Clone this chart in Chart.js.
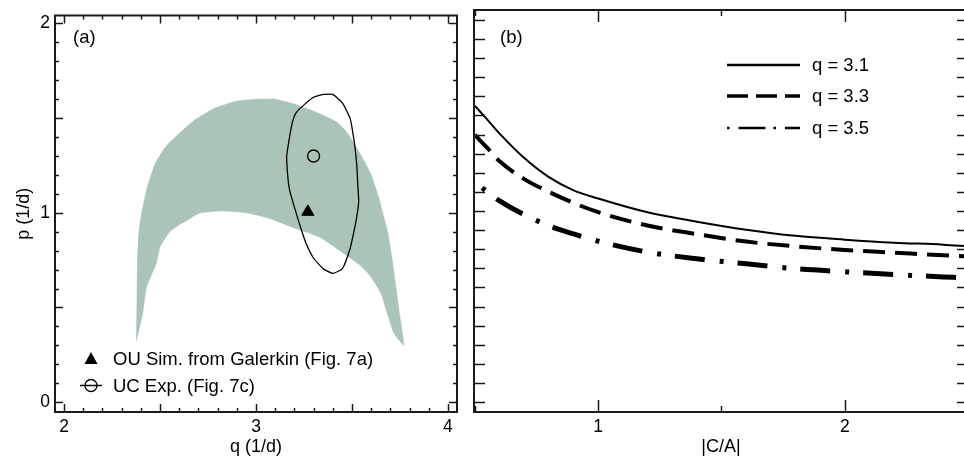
<!DOCTYPE html>
<html lang="en">
<head>
    <meta charset="UTF-8">
    <title>p-q region and |C/A| curves</title>
    <script src="https://cdn.jsdelivr.net/npm/chart.js@4.4.0/dist/chart.umd.min.js"></script>
    <style>
        html, body { margin: 0; padding: 0; background: #fff; overflow: hidden; }
        .wrap { position: relative; width: 964px; height: 459px; overflow: hidden; }
        #leftChart { position: absolute; left: 0; top: 0; }
        #rightChart { position: absolute; left: 464px; top: 0; }
    </style>
</head>
<body>
<div class="wrap">
    <canvas id="leftChart" width="470" height="459"></canvas>
    <canvas id="rightChart" width="510" height="459"></canvas>
</div>
<script>
    // ---- panel (a): shaded band, outer edge then inner edge (q, p) ----
    const bandQ = [2.377, 2.38, 2.382, 2.39, 2.405, 2.435, 2.475, 2.53, 2.59, 2.68, 2.78, 2.90, 3.00, 3.10, 3.20, 3.28, 3.36, 3.42, 3.47, 3.52, 3.56, 3.60, 3.64, 3.665, 3.686, 3.71, 3.73, 3.75, 3.77,
                   3.717, 3.69, 3.65, 3.60, 3.545, 3.45, 3.335, 3.20, 3.07, 2.95, 2.83, 2.71, 2.64, 2.585, 2.55, 2.50, 2.48, 2.43, 2.41, 2.39, 2.377];
    const bandP = [0.325, 0.55, 0.73, 0.90, 1.00, 1.14, 1.26, 1.35, 1.41, 1.49, 1.55, 1.59, 1.60, 1.60, 1.575, 1.545, 1.51, 1.48, 1.43, 1.35, 1.28, 1.20, 1.08, 0.98, 0.90, 0.75, 0.60, 0.45, 0.30,
                   0.366, 0.45, 0.576, 0.66, 0.72, 0.79, 0.87, 0.92, 0.97, 1.00, 1.01, 1.00, 0.96, 0.927, 0.90, 0.82, 0.73, 0.61, 0.47, 0.38, 0.325];

    // closed contour of the experiment
    const contourQ = [3.35, 3.30, 3.25, 3.21, 3.19, 3.175, 3.16, 3.165, 3.175, 3.20, 3.23, 3.26, 3.30, 3.35, 3.40, 3.45, 3.49, 3.51, 3.525, 3.535, 3.53, 3.525, 3.515, 3.50, 3.49, 3.45, 3.40, 3.35];
    const contourP = [1.625, 1.61, 1.57, 1.53, 1.48, 1.40, 1.30, 1.20, 1.12, 1.03, 0.93, 0.84, 0.76, 0.705, 0.68, 0.705, 0.81, 0.90, 0.98, 1.06, 1.15, 1.25, 1.35, 1.45, 1.50, 1.58, 1.625, 1.625];

    const ouSim = { q: 3.27, p: 1.005 };
    const ucExp = { q: 3.30, p: 1.30 };

    const qTicks = [2, 3, 4];
    const pTicks = [0, 1, 2];

    // ---- panel (b): curves vs |C/A| ----
    const ca31 = [0.5, 0.55, 0.6, 0.7, 0.8, 0.9, 1.0, 1.2, 1.4, 1.6, 1.8, 2.0, 2.2, 2.4, 2.5];
    const p31  = [1.55, 1.478, 1.405, 1.277, 1.177, 1.108, 1.065, 0.993, 0.944, 0.902, 0.870, 0.850, 0.834, 0.824, 0.815];
    const ca33 = [0.5, 0.55, 0.6, 0.7, 0.8, 0.9, 1.0, 1.2, 1.4, 1.6, 1.8, 2.0, 2.2, 2.4, 2.5];
    const p33  = [1.398, 1.33, 1.26, 1.167, 1.10, 1.042, 0.994, 0.924, 0.879, 0.84, 0.815, 0.796, 0.782, 0.768, 0.762];
    const ca35 = [0.5, 0.55, 0.6, 0.7, 0.8, 0.9, 1.0, 1.2, 1.4, 1.6, 1.8, 2.0, 2.2, 2.4, 2.46];
    const p35  = [1.15, 1.10, 1.053, 0.98, 0.923, 0.88, 0.842, 0.785, 0.75, 0.724, 0.698, 0.682, 0.668, 0.655, 0.652];
    const caTicks = [1, 2];
    const legendLabels = ['q = 3.1', 'q = 3.3', 'q = 3.5'];

    const FONT = "'Liberation Sans', Arial, Helvetica, sans-serif";
    Chart.defaults.font.family = FONT;
    Chart.defaults.font.size = 18;
    Chart.defaults.color = '#000';

    const zip = (xs, ys) => xs.map((x, i) => ({ x: x, y: ys[i] }));

    // minor/major inward ticks on all four sides
    function range(a, b, step) {
        const out = [];
        for (let v = a; v <= b + 1e-9; v += step) out.push(Math.round(v * 1000) / 1000);
        return out;
    }

    function frameTicks(xTicks, yTicks) {
        return {
            id: 'frameTicks',
            afterDatasetsDraw(chart) {
                const { ctx, chartArea: a, scales } = chart;
                ctx.save();
                ctx.strokeStyle = '#1a1a1a';
                ctx.lineWidth = 1.5;
                ctx.beginPath();
                xTicks.forEach(t => {
                    const px = Math.round(scales.x.getPixelForValue(t.v)) + 0.5;
                    ctx.moveTo(px, a.bottom); ctx.lineTo(px, a.bottom - t.len);
                    ctx.moveTo(px, a.top); ctx.lineTo(px, a.top + t.len);
                });
                yTicks.forEach(t => {
                    const py = Math.round(scales.y.getPixelForValue(t.v)) + 0.5;
                    ctx.moveTo(a.left, py); ctx.lineTo(a.left + t.len, py);
                    ctx.moveTo(a.right, py); ctx.lineTo(a.right - t.len, py);
                });
                ctx.stroke();
                ctx.lineWidth = 2;
                ctx.strokeRect(a.left, a.top, a.right - a.left, a.bottom - a.top);
                ctx.restore();
            }
        };
    }

    const leftXTicks = range(2, 4, 0.1).map(v => ({ v: v, len: (Math.abs(v * 2 - Math.round(v * 2)) < 1e-6) ? 8 : 4 }));
    const leftYTicks = range(0, 2, 0.1).map(v => ({ v: v, len: (Math.abs(v * 2 - Math.round(v * 2)) < 1e-6) ? 8 : 4 }));

    const leftDecor = {
        id: 'leftDecor',
        afterDraw(chart) {
            const ctx = chart.ctx;
            ctx.save();
            ctx.font = '18.5px ' + FONT;
            ctx.fillStyle = '#000';
            ctx.textBaseline = 'middle';
            ctx.fillText('(a)', 73, 38);
            // legend
            ctx.beginPath();
            ctx.moveTo(91, 352); ctx.lineTo(97.5, 364); ctx.lineTo(84.5, 364); ctx.closePath();
            ctx.fill();
            ctx.fillText('OU Sim. from Galerkin (Fig. 7a)', 113, 360);
            ctx.strokeStyle = '#000';
            ctx.lineWidth = 1.3;
            ctx.beginPath();
            ctx.moveTo(80, 385.5); ctx.lineTo(102, 385.5);
            ctx.moveTo(97, 385.5); ctx.arc(91, 385.5, 6, 0, Math.PI * 2);
            ctx.stroke();
            ctx.fillText('UC Exp. (Fig. 7c)', 113, 387);
            ctx.restore();
        }
    };

    new Chart(document.getElementById('leftChart'), {
        type: 'scatter',
        data: {
            datasets: [
                {
                    data: zip(bandQ, bandP), showLine: true, fill: 'shape',
                    backgroundColor: '#aac4b8', borderColor: '#aac4b8', borderWidth: 0.5,
                    pointRadius: 0, tension: 0.15, order: 3
                },
                {
                    data: zip(contourQ, contourP), showLine: true, fill: false,
                    borderColor: '#000', borderWidth: 1.3, pointRadius: 0, tension: 0.15, order: 2
                },
                {
                    data: [{ x: ouSim.q, y: ouSim.p }], pointStyle: 'triangle', pointRadius: 7,
                    backgroundColor: '#000', borderColor: '#000', borderWidth: 1, order: 1
                },
                {
                    data: [{ x: ucExp.q, y: ucExp.p }], pointStyle: 'circle', pointRadius: 6,
                    backgroundColor: 'rgba(0,0,0,0)', borderColor: '#000', borderWidth: 1.3, order: 1
                }
            ]
        },
        options: {
            responsive: false,
            animation: false,
            events: [],
            layout: { padding: { top: 11, right: 13, left: 0, bottom: 0 } },
            plugins: { legend: { display: false }, tooltip: { enabled: false } },
            scales: {
                x: {
                    type: 'linear', min: 1.953, max: 4.047,
                    grid: { display: false, drawTicks: false }, border: { display: false },
                    ticks: { stepSize: 1, includeBounds: false, padding: 5, font: { size: 17.5 },
                             maxRotation: 0, callback: v => qTicks.includes(v) ? String(v) : '' },
                    title: { display: true, text: 'q (1/d)', padding: { top: 0, bottom: 1 } },
                    afterFit: s => { s.height = 47; }
                },
                y: {
                    type: 'linear', min: -0.052, max: 2.042,
                    grid: { display: false, drawTicks: false }, border: { display: false },
                    ticks: { stepSize: 1, includeBounds: false, padding: 5, font: { size: 17.5 },
                             callback: v => pTicks.includes(v) ? String(v) : '' },
                    title: { display: true, text: 'p (1/d)', padding: { top: 13, bottom: 0 } },
                    afterFit: s => { s.width = 55; }
                }
            }
        },
        plugins: [frameTicks(leftXTicks, leftYTicks), leftDecor]
    });

    const rightXTicks = [0.5, 1, 1.5, 2, 2.5].map(v => ({ v: v, len: Number.isInteger(v) ? 12 : 6 }));
    const rightYTicks = range(0, 2, 0.1).map(v => ({ v: v, len: 11 }));

    const rightDecor = {
        id: 'rightDecor',
        afterDraw(chart) {
            const ctx = chart.ctx;
            ctx.save();
            ctx.font = '18.5px ' + FONT;
            ctx.fillStyle = '#000';
            ctx.textBaseline = 'middle';
            ctx.fillText('(b)', 36, 38);
            ctx.strokeStyle = '#000';
            const x0 = 263, x1 = 336, rows = [65, 96, 128];
            const styles = [
                { w: 2.5, dash: [] },
                { w: 3.5, dash: [21, 8] },
                { w: 2.5, dash: [2.5, 9, 27, 8] }
            ];
            styles.forEach((s, i) => {
                ctx.lineWidth = s.w;
                ctx.setLineDash(s.dash);
                ctx.beginPath();
                ctx.moveTo(x0, rows[i]); ctx.lineTo(x1, rows[i]);
                ctx.stroke();
                ctx.fillText(legendLabels[i], 348, rows[i] + 1);
            });
            ctx.restore();
        }
    };

    new Chart(document.getElementById('rightChart'), {
        type: 'scatter',
        data: {
            datasets: [
                {
                    data: zip(ca31, p31), showLine: true, borderColor: '#000', borderWidth: 2,
                    pointRadius: 0, cubicInterpolationMode: 'monotone'
                },
                {
                    data: zip(ca33, p33), showLine: true, borderColor: '#000', borderWidth: 4,
                    borderDash: [22, 10], borderCapStyle: 'butt',
                    pointRadius: 0, cubicInterpolationMode: 'monotone'
                },
                {
                    data: zip(ca35, p35), showLine: true, borderColor: '#000', borderWidth: 5,
                    borderDash: [30, 15, 4, 14], borderDashOffset: 36, borderCapStyle: 'butt',
                    pointRadius: 0, cubicInterpolationMode: 'monotone'
                }
            ]
        },
        options: {
            responsive: false,
            animation: false,
            events: [],
            layout: { padding: { top: 10, right: 6, left: 10, bottom: 0 } },
            plugins: { legend: { display: false }, tooltip: { enabled: false } },
            scales: {
                x: {
                    type: 'linear', min: 0.496, max: 2.5,
                    grid: { display: false, drawTicks: false }, border: { display: false },
                    ticks: { stepSize: 1, includeBounds: false, padding: 5, font: { size: 17.5 },
                             maxRotation: 0, callback: v => caTicks.includes(v) ? String(v) : '' },
                    title: { display: true, text: '|C/A|', padding: { top: 0, bottom: 1 } },
                    afterFit: s => { s.height = 47; }
                },
                y: {
                    type: 'linear', min: -0.052, max: 2.052, display: false
                }
            }
        },
        plugins: [frameTicks(rightXTicks, rightYTicks), rightDecor]
    });
</script>
</body>
</html>
